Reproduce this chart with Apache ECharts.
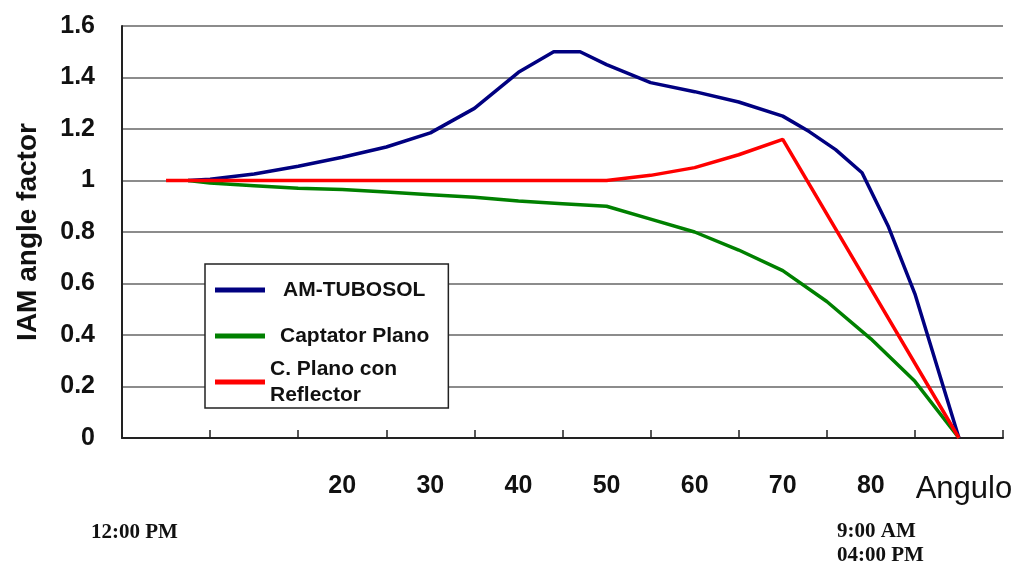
<!DOCTYPE html>
<html>
<head>
<meta charset="utf-8">
<script src="https://cdn.jsdelivr.net/npm/echarts@6/dist/echarts.min.js"></script>
<style>html,body{margin:0;padding:0;background:#fff;}#c{width:1023px;height:565px;}</style>
</head>
<body>
<div id="c"></div>
<script>
// Data (angle in degrees, IAM factor)
const blueAngles  = [2.5, 5, 10, 15, 20, 25, 30, 35, 40, 44, 47, 50, 55, 60, 65, 70, 73, 76, 79, 82, 85, 90];
const blueValues  = [1.0, 1.005, 1.025, 1.055, 1.09, 1.13, 1.185, 1.28, 1.42, 1.50, 1.50, 1.45, 1.38, 1.345, 1.305, 1.25, 1.19, 1.12, 1.03, 0.82, 0.56, 0];
const greenAngles = [2.5, 5, 10, 15, 20, 25, 30, 35, 40, 45, 50, 55, 60, 65, 70, 75, 80, 85, 90];
const greenValues = [1.0, 0.99, 0.98, 0.97, 0.965, 0.955, 0.945, 0.935, 0.92, 0.91, 0.90, 0.85, 0.80, 0.73, 0.65, 0.53, 0.385, 0.22, 0];
const redAngles   = [0, 10, 20, 30, 40, 50, 55, 60, 65, 70, 80, 90];
const redValues   = [1.0, 1.0, 1.0, 1.0, 1.0, 1.0, 1.02, 1.05, 1.10, 1.16, 0.58, 0];
const seriesNames = ['AM-TUBOSOL', 'Captator Plano', 'C. Plano con Reflector'];
const xTickValues  = [5, 15, 25, 35, 45, 55, 65, 75, 85, 95];
const xLabelValues = [20, 30, 40, 50, 60, 70, 80, 90];
const xEndLabel = 'Angulo';
const yTitle = 'IAM angle factor';
const timeNotes = ['12:00 PM', '9:00 AM', '04:00 PM'];

const pairs = (a, v) => a.map((x, i) => [x, v[i]]);
const SANS = '"Liberation Sans", Arial, sans-serif';
const SERIF = '"Liberation Serif", "Times New Roman", serif';

const chart = echarts.init(document.getElementById('c'), null, {renderer: 'canvas'});
chart.setOption({
  backgroundColor: '#ffffff',
  animation: false,
  grid: {left: 122, right: 20, top: 26, bottom: 127, containLabel: false},
  xAxis: {
    type: 'value', min: -5, max: 95,
    axisLine: {onZero: false, lineStyle: {color: '#222', width: 2}},
    axisTick: {show: true, inside: true, length: 8, customValues: xTickValues, lineStyle: {color: '#222', width: 1.5}},
    splitLine: {show: false},
    axisLabel: {
      customValues: xLabelValues, margin: 36,
      color: '#111', fontFamily: SANS, fontWeight: 'bold', fontSize: 25,
      formatter: v => v === 90 ? '{n|' + xEndLabel + '}' : String(v),
      rich: {n: {fontFamily: SANS, fontWeight: 'normal', fontSize: 31, color: '#111', padding: [0, 0, 0, 10]}}
    }
  },
  yAxis: {
    type: 'value', min: 0, max: 1.6, interval: 0.2,
    name: yTitle, nameLocation: 'middle', nameGap: 80,
    nameTextStyle: {fontFamily: SANS, fontWeight: 'bold', fontSize: 28, color: '#111'},
    axisLine: {show: true, onZero: false, lineStyle: {color: '#222', width: 2}},
    axisTick: {show: false},
    splitLine: {show: true, lineStyle: {color: '#666', width: 1.5}},
    axisLabel: {margin: 27, color: '#111', fontFamily: SANS, fontWeight: 'bold', fontSize: 25}
  },
  legend: {
    orient: 'vertical', left: 205, top: 264,
    backgroundColor: '#fff', borderColor: '#222', borderWidth: 1.5,
    padding: [0, 19, 0, 10], itemGap: 0,
    itemWidth: 50, itemHeight: 5, icon: 'rect',
    textStyle: {fontFamily: SANS, fontWeight: 'bold', fontSize: 21, color: '#111'},
    formatter: n => n === seriesNames[2] ? 'C. Plano con\nReflector' : n,
    data: [
      {name: seriesNames[0], textStyle: {lineHeight: 52, padding: [0, 0, 0, 13]}},
      {name: seriesNames[1], textStyle: {lineHeight: 40, padding: [0, 0, 0, 10]}},
      {name: seriesNames[2], textStyle: {lineHeight: 26, padding: [0, 0, 0, 0]}}
    ]
  },
  series: [
    {name: seriesNames[0], type: 'line', data: pairs(blueAngles, blueValues), showSymbol: false, color: '#000080', lineStyle: {width: 3.5, color: '#000080'}},
    {name: seriesNames[1], type: 'line', data: pairs(greenAngles, greenValues), showSymbol: false, color: '#008000', lineStyle: {width: 3.5, color: '#008000'}},
    {name: seriesNames[2], type: 'line', data: pairs(redAngles, redValues), showSymbol: false, color: '#ff0000', lineStyle: {width: 3.5, color: '#ff0000'}}
  ],
  graphic: [
    {type: 'text', left: 91, top: 522, style: {text: timeNotes[0], font: 'bold 21px ' + SERIF, fill: '#111'}},
    {type: 'text', left: 837, top: 521, style: {text: timeNotes[1], font: 'bold 21px ' + SERIF, fill: '#111'}},
    {type: 'text', left: 837, top: 545, style: {text: timeNotes[2], font: 'bold 21px ' + SERIF, fill: '#111'}}
  ]
});
</script>
</body>
</html>
